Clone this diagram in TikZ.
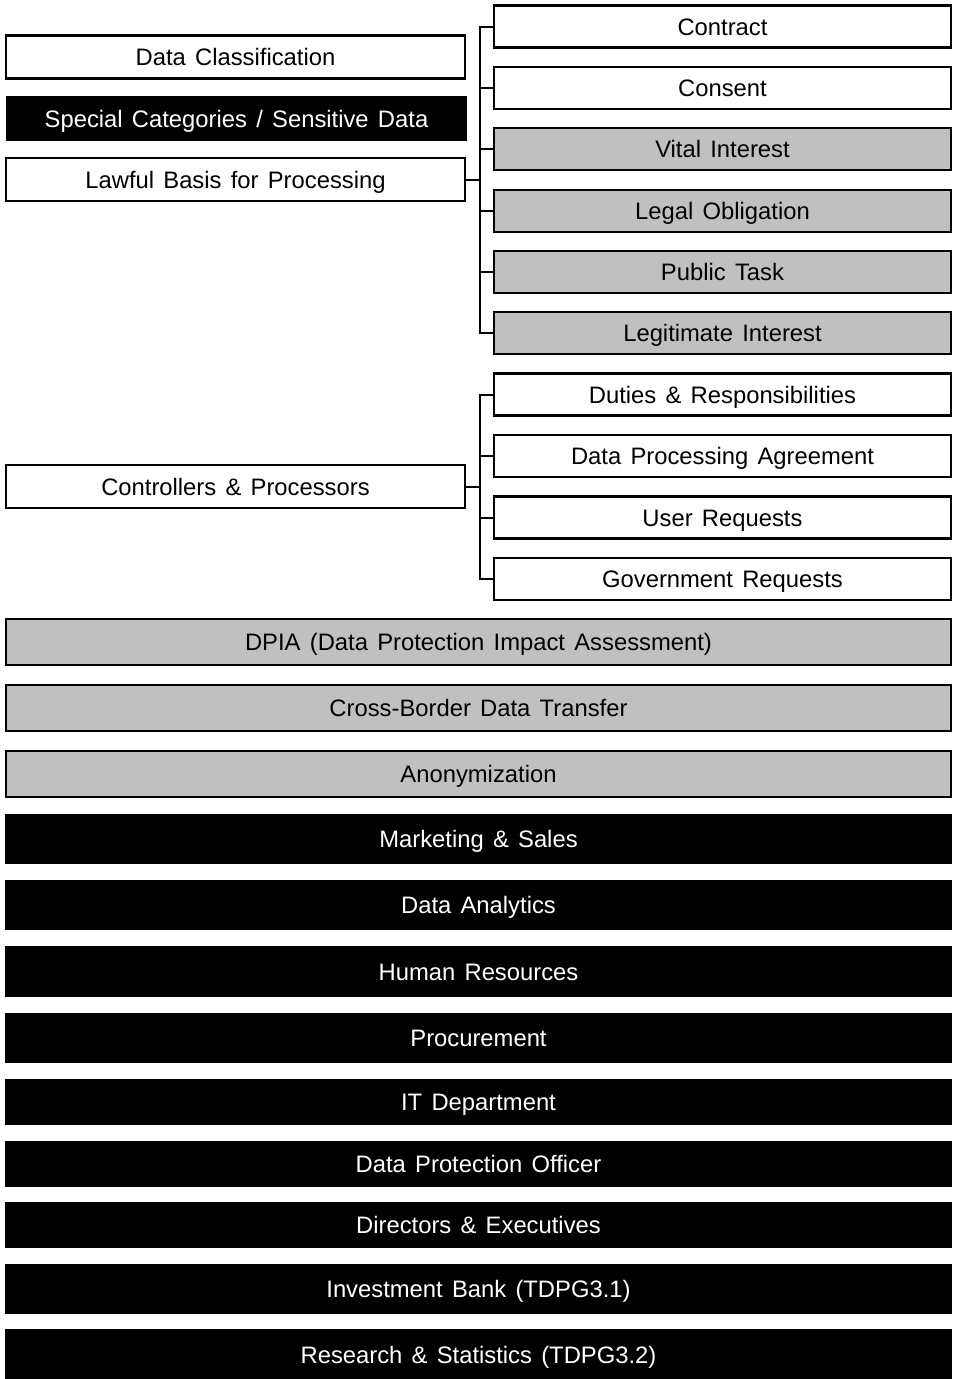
\documentclass[tikz,border=0pt]{standalone}
\usepackage{fontspec}
\setmainfont{Liberation Sans}[WordSpace=1.4]
\begin{document}
\begin{tikzpicture}[x=1pt,y=-1pt,
  base/.style={rectangle, draw=black, line width=2.4pt, inner sep=0pt, anchor=center,
    text height=17pt, text depth=0pt,
    font=\fontsize{23.8}{26}\selectfont},
  wbox/.style={base, fill=white, text=black},
  gbox/.style={base, fill=gray!50!white, text=black},
  bbox/.style={base, fill=black, text=white, draw=black},
  lcol/.style={minimum width=459pt, minimum height=43pt},
  rcol/.style={minimum width=457pt, minimum height=42pt},
  full/.style={minimum width=945pt},
  conn/.style={draw=black, line width=2pt, line join=miter}]
\useasboundingbox (0,0) rectangle (953,1379);
\definecolor{gfill}{RGB}{192,192,192}
\tikzset{gbox/.append style={fill=gfill}}
% left column
\node[wbox,lcol] (dc) at (235.5,57) {Data Classification};
\node[bbox,lcol] (sc) at (236.5,118.5) {Special Categories / Sensitive Data};
\node[wbox,lcol] (lb) at (235.5,179.5) {Lawful Basis for Processing};
\node[wbox,lcol] (cp) at (235.5,486.5) {Controllers \& Processors};
% right column
\node[wbox,rcol] (contract) at (722.5,26.5) {Contract};
\node[wbox,rcol] (consent) at (722.5,88) {Consent};
\node[gbox,rcol] (vital) at (722.5,149) {Vital Interest};
\node[gbox,rcol] (legal) at (722.5,211) {Legal Obligation};
\node[gbox,rcol] (public) at (722.5,272) {Public Task};
\node[gbox,rcol] (legit) at (722.5,333) {Legitimate Interest};
\node[wbox,rcol] (duties) at (722.5,394.5) {Duties \& Responsibilities};
\node[wbox,rcol] (dpa) at (722.5,456) {Data Processing Agreement};
\node[wbox,rcol] (user) at (722.5,517.5) {User Requests};
\node[wbox,rcol] (gov) at (722.5,579) {Government Requests};
% full width rows
\node[gbox,full,minimum height=46pt] (dpia) at (478.5,642) {DPIA (Data Protection Impact Assessment)};
\node[gbox,full,minimum height=46pt] (cbt) at (478.5,708) {Cross-Border Data Transfer};
\node[gbox,full,minimum height=46pt] (anon) at (478.5,774) {Anonymization};
\node[bbox,full,minimum height=48pt] (mkt) at (478.5,839) {Marketing \& Sales};
\node[bbox,full,minimum height=48pt] (da) at (478.5,905) {Data Analytics};
\node[bbox,full,minimum height=49pt] (hr) at (478.5,971.5) {Human Resources};
\node[bbox,full,minimum height=48pt] (proc) at (478.5,1038) {Procurement};
\node[bbox,full,minimum height=44pt] (it) at (478.5,1102) {IT Department};
\node[bbox,full,minimum height=44pt] (dpo) at (478.5,1164) {Data Protection Officer};
\node[bbox,full,minimum height=44pt] (dir) at (478.5,1225) {Directors \& Executives};
\node[bbox,full,minimum height=48pt] (ib) at (478.5,1289) {Investment Bank (TDPG3.1)};
\node[bbox,full,minimum height=48pt] (rs) at (478.5,1354.5) {Research \& Statistics (TDPG3.2)};
% connectors
\coordinate (bus) at (480,0);
\draw[conn] (lb.east) -- (lb.east -| bus);
\draw[conn] (contract.west) -- (contract.west -| bus) -- (legit.west -| bus) -- (legit.west);
\foreach \n in {consent,vital,legal,public}
  \draw[conn] (\n.west -| bus) -- (\n.west);
\draw[conn] (cp.east) -- (cp.east -| bus);
\draw[conn] (duties.west) -- (duties.west -| bus) -- (gov.west -| bus) -- (gov.west);
\foreach \n in {dpa,user}
  \draw[conn] (\n.west -| bus) -- (\n.west);
\end{tikzpicture}
\end{document}
